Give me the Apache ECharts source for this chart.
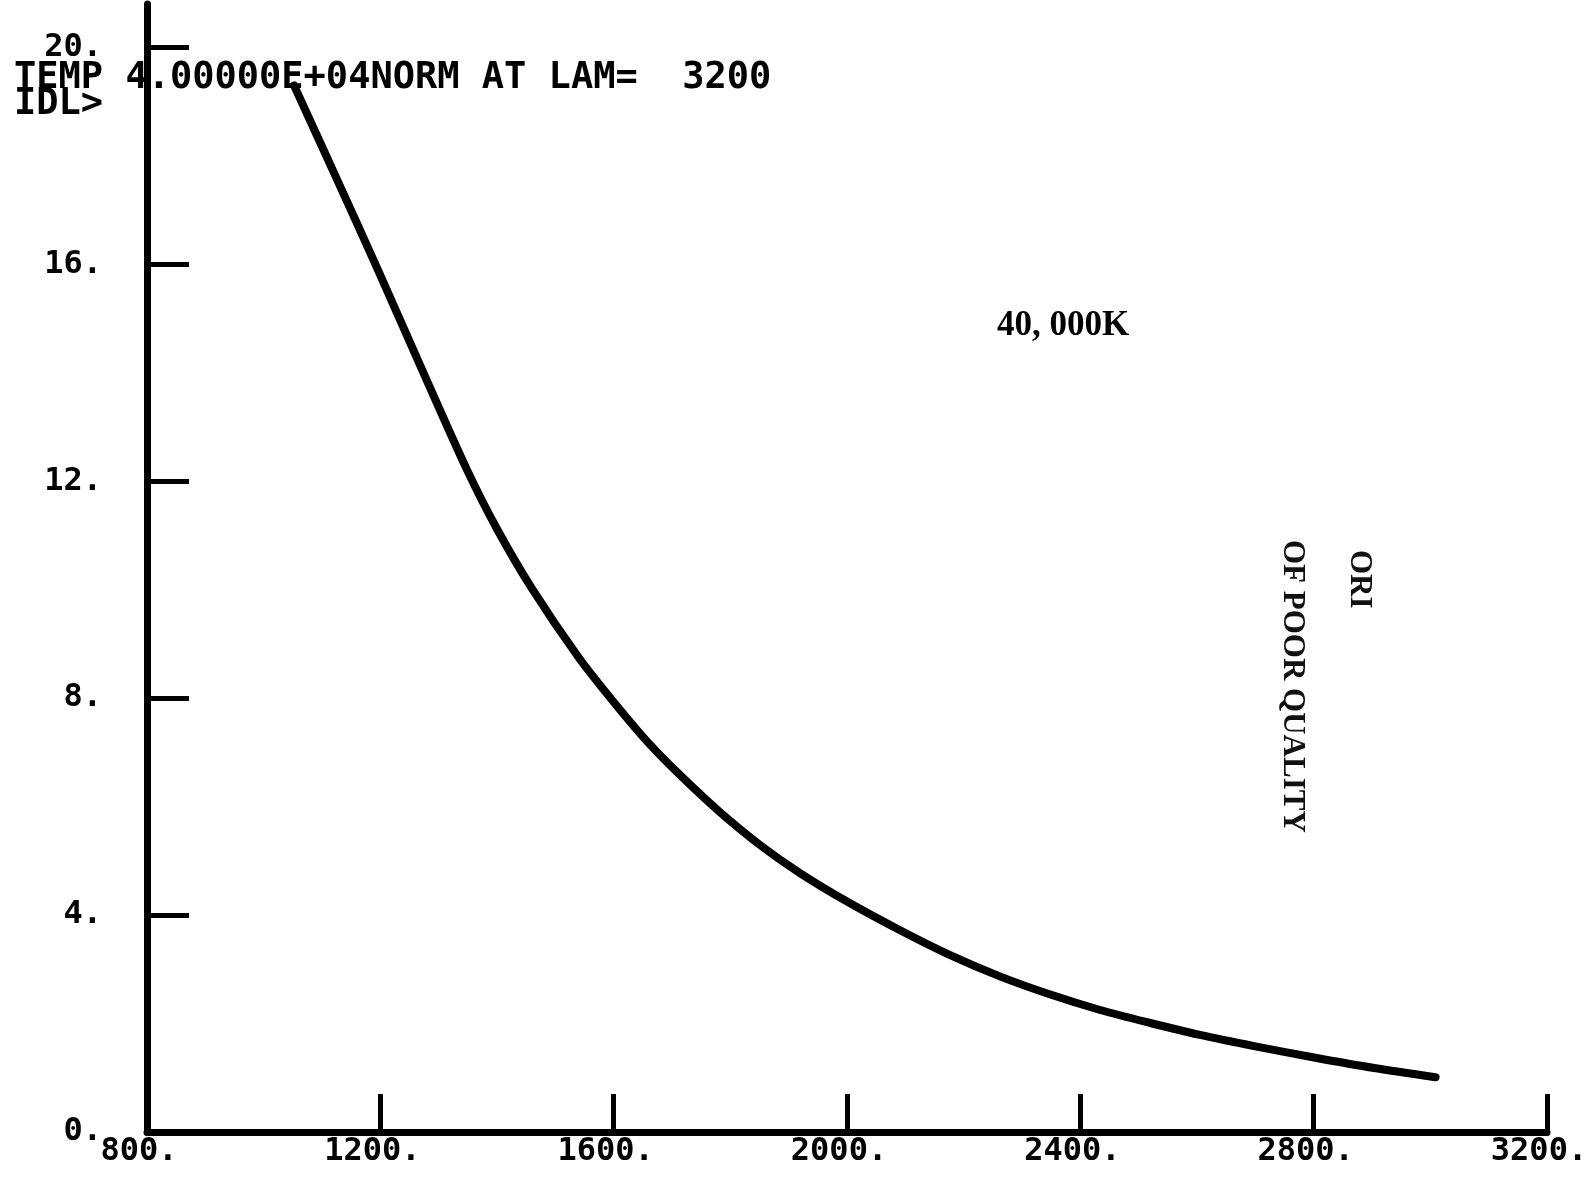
<!DOCTYPE html>
<html>
<head>
<meta charset="utf-8">
<script src="https://cdn.jsdelivr.net/npm/echarts@6/dist/echarts.min.js"></script>
<style>
html,body{margin:0;padding:0;background:#fff;}
#chart{width:1596px;height:1186px;}
</style>
</head>
<body>
<div id="chart"></div>
<script>
// Wavelength (Angstrom)
const wavelength = [1052,1120,1197,1280,1349,1400,1460,1540,1600,1660,1714,1780,1850,1920,2000,2091,2175,2262,2350,2434,2520,2605,2700,2803,2904,3009];
// Normalized intensity
const intensity = [19.30,17.70,15.87,13.85,12.20,11.12,10.02,8.75,7.93,7.17,6.58,5.92,5.30,4.77,4.25,3.72,3.27,2.87,2.53,2.25,2.01,1.79,1.58,1.37,1.18,1.01];
const xTicks = [800,1200,1600,2000,2400,2800,3200];
const yTicks = [0,4,8,12,16,20];
const titleLine = 'TEMP 4.00000E+04NORM AT LAM=  3200';
const promptLine = 'IDL>';
const curveLabel = '40, 000K';
const stampLine1 = 'ORI';
const stampLine2 = 'OF POOR QUALITY';

const seriesData = wavelength.map((w, i) => [w, intensity[i]]);
const mono = '"DejaVu Sans Mono", "Liberation Mono", monospace';

const chart = echarts.init(document.getElementById('chart'));
chart.setOption({
  animation: false,
  backgroundColor: '#ffffff',
  grid: { left: 147, right: 49, top: 4, bottom: 54, containLabel: false },
  xAxis: {
    type: 'value', min: 800, max: 3200, interval: 400,
    splitLine: { show: false },
    axisLine: { show: true, onZero: true, lineStyle: { color: '#000', width: 7 } },
    axisTick: { show: true, inside: true, length: 38, customValues: xTicks.slice(1), lineStyle: { color: '#000', width: 5 } },
    axisLabel: {
      customValues: xTicks,
      formatter: v => v + '.',
      color: '#000', fontFamily: mono, fontWeight: 'bold', fontSize: 32,
      margin: 4, padding: [0, 16, 0, 0]
    }
  },
  yAxis: {
    type: 'value', min: 0, max: 20.8, interval: 4,
    splitLine: { show: false },
    axisLine: { show: true, lineStyle: { color: '#000', width: 7 } },
    axisTick: { show: true, inside: true, length: 42, customValues: yTicks.slice(1), lineStyle: { color: '#000', width: 5 } },
    axisLabel: {
      customValues: yTicks,
      formatter: v => v + '.',
      color: '#000', fontFamily: mono, fontWeight: 'bold', fontSize: 32,
      margin: 45, padding: [0, 0, 20, 0]
    }
  },
  series: [{
    type: 'line',
    data: seriesData,
    smooth: 0.3,
    showSymbol: false,
    symbol: 'none',
    lineStyle: { color: '#000', width: 8, cap: 'round', join: 'round' }
  }],
  graphic: [
    { type: 'text', x: 14, y: 78, z: 100, style: { text: titleLine, font: 'bold 37px ' + mono, fill: '#000', textVerticalAlign: 'middle' } },
    { type: 'text', x: 14, y: 104, z: 100, style: { text: promptLine, font: 'bold 37px ' + mono, fill: '#000', textVerticalAlign: 'middle' } },
    { type: 'text', x: 997, y: 326, style: { text: curveLabel, font: 'bold 35px "Liberation Serif", serif', fill: '#000', textVerticalAlign: 'middle' } },
    { type: 'text', x: 1359, y: 550, rotation: -Math.PI / 2, style: { text: stampLine1, font: 'bold 31px "Liberation Serif", serif', fill: '#111', textVerticalAlign: 'middle' } },
    { type: 'text', x: 1292, y: 540, rotation: -Math.PI / 2, style: { text: stampLine2, font: 'bold 31px "Liberation Serif", serif', fill: '#111', textVerticalAlign: 'middle' } }
  ]
});
</script>
</body>
</html>
